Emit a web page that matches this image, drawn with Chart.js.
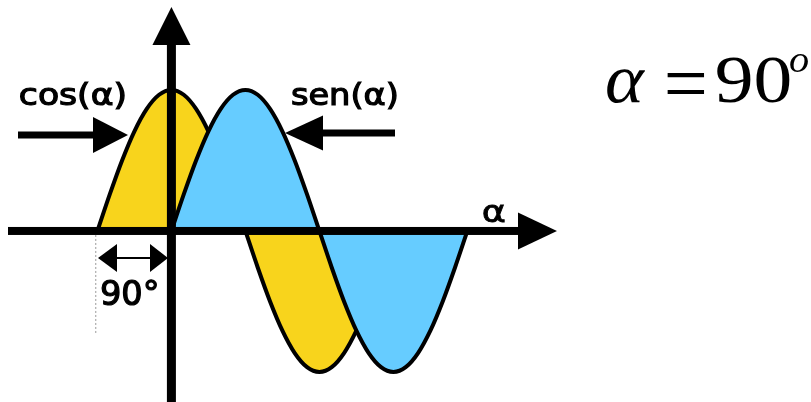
<!DOCTYPE html>
<html><head><meta charset="utf-8">
<script src="https://cdn.jsdelivr.net/npm/chart.js@4/dist/chart.umd.min.js"></script>
<style>html,body{margin:0;padding:0;background:#fff}#wrap{width:811px;height:402px;position:relative}</style>
</head><body><div id="wrap"><canvas id="c" width="811" height="402"></canvas></div>
<script>
// angles in degrees
const cosAngles = [-90,-75,-60,-45,-30,-15,0,15,30,45,60,75,90,105,120,135,150,165,180,195,210,225,240,255,270];
const cosValues = [0,0.259,0.5,0.707,0.866,0.966,1,0.966,0.866,0.707,0.5,0.259,0,-0.259,-0.5,-0.707,-0.866,-0.966,-1,-0.966,-0.866,-0.707,-0.5,-0.259,0];
const senAngles = [0,15,30,45,60,75,90,105,120,135,150,165,180,195,210,225,240,255,270,285,300,315,330,345,360];
const senValues = [0,0.259,0.5,0.707,0.866,0.966,1,0.966,0.866,0.707,0.5,0.259,0,-0.259,-0.5,-0.707,-0.866,-0.966,-1,-0.966,-0.866,-0.707,-0.5,-0.259,0];
const labels = { cos: "cos(α)", sen: "sen(α)", axis: "α", shift: "90°" };

const toPts = (xs, ys) => xs.map((x, i) => ({ x, y: ys[i] }));

function arrowHead(ctx, tx, ty, dir, len, half) {
  ctx.beginPath();
  if (dir === 'right') { ctx.moveTo(tx, ty); ctx.lineTo(tx - len, ty - half); ctx.lineTo(tx - len, ty + half); }
  if (dir === 'left')  { ctx.moveTo(tx, ty); ctx.lineTo(tx + len, ty - half); ctx.lineTo(tx + len, ty + half); }
  if (dir === 'up')    { ctx.moveTo(tx, ty); ctx.lineTo(tx - half, ty + len); ctx.lineTo(tx + half, ty + len); }
  ctx.closePath(); ctx.fill();
}

// draw text stretched horizontally to a given ink width (baseline y)
function fitText(ctx, text, x, y, width, font, stroke) {
  ctx.save();
  ctx.font = font;
  const m = ctx.measureText(text);
  const ink = m.actualBoundingBoxLeft + m.actualBoundingBoxRight;
  const s = width / ink;
  ctx.translate(x, y);
  ctx.scale(s, 1);
  ctx.fillText(text, m.actualBoundingBoxLeft, 0);
  if (stroke) { ctx.lineWidth = stroke; ctx.strokeText(text, m.actualBoundingBoxLeft, 0); }
  ctx.restore();
}
// draw text scaled to fit an ink box
function fitBox(ctx, text, x, top, w, h, font) {
  ctx.save();
  ctx.font = font;
  const m = ctx.measureText(text);
  const iw = m.actualBoundingBoxLeft + m.actualBoundingBoxRight;
  const ih = m.actualBoundingBoxAscent + m.actualBoundingBoxDescent;
  ctx.translate(x, top);
  ctx.scale(w / iw, h / ih);
  ctx.fillText(text, m.actualBoundingBoxLeft, m.actualBoundingBoxAscent);
  ctx.restore();
}

const decor = {
  id: 'decor',
  afterDatasetsDraw(chart) {
    const ctx = chart.ctx, xs = chart.scales.x, ys = chart.scales.y;
    const ox = xs.getPixelForValue(0), oy = ys.getPixelForValue(0);
    const H = chart.height;
    ctx.save();
    ctx.fillStyle = '#000'; ctx.strokeStyle = '#000';
    // horizontal axis
    const xEnd = xs.getPixelForValue(469);
    ctx.fillRect(8, oy - 4, xEnd - 30 - 8, 8);
    arrowHead(ctx, xEnd, oy, 'right', 39, 18.5);
    // vertical axis
    ctx.fillRect(ox - 4.5, 40, 9, H - 40);
    arrowHead(ctx, ox, 7, 'up', 38, 19);
    // cos arrow
    const cy = 135;
    ctx.fillRect(18, cy - 3.5, 80, 7);
    arrowHead(ctx, 128, cy, 'right', 35, 18);
    // sen arrow
    const sy = 133;
    ctx.fillRect(315, sy - 3.5, 80, 7);
    arrowHead(ctx, 285, sy, 'left', 38, 17.5);
    // dotted reference line at -90
    const px = xs.getPixelForValue(-92);
    ctx.save();
    ctx.strokeStyle = '#999'; ctx.lineWidth = 1; ctx.setLineDash([2, 2]);
    ctx.beginPath(); ctx.moveTo(px, oy + 4); ctx.lineTo(px, 333); ctx.stroke();
    ctx.restore();
    // 90 degree double arrow
    const dy = 258;
    ctx.lineWidth = 2;
    ctx.beginPath(); ctx.moveTo(110, dy); ctx.lineTo(158, dy); ctx.stroke();
    arrowHead(ctx, 98, dy, 'left', 19, 14);
    arrowHead(ctx, 168, dy, 'right', 18, 14);
    // texts
    ctx.textBaseline = 'alphabetic'; ctx.textAlign = 'left';
    const lf = '30px "DejaVu Sans"';
    fitText(ctx, labels.cos, 20, 105, 105, lf, 1.2);
    fitText(ctx, labels.sen, 292, 105, 105, lf, 1.2);
    fitText(ctx, labels.axis, 483, 222, 22, '30px "DejaVu Sans"', 0.8);
    fitText(ctx, labels.shift, 102, 305, 55, '33px "DejaVu Sans"', 1.2);
    // formula
    fitText(ctx, 'α', 607, 102, 38, 'italic 70px "Liberation Serif"');
    fitBox(ctx, '=', 667, 72, 38, 21, '70px "Liberation Serif"');
    fitText(ctx, '90', 717, 102, 73, '68px "Liberation Serif"');
    fitText(ctx, 'o', 790, 72, 18, 'italic 38px "Liberation Serif"');
    ctx.restore();
  }
};

new Chart(document.getElementById('c'), {
  type: 'line',
  data: {
    datasets: [
      { label: 'sen', data: toPts(senAngles, senValues), borderColor: '#000', borderWidth: 4,
        backgroundColor: '#66CCFF', fill: 'origin', pointRadius: 0, cubicInterpolationMode: 'monotone' },
      { label: 'cos', data: toPts(cosAngles, cosValues), borderColor: '#000', borderWidth: 4,
        backgroundColor: '#F8D41C', fill: 'origin', pointRadius: 0, cubicInterpolationMode: 'monotone' }
    ]
  },
  options: {
    responsive: false, animation: false,
    layout: { padding: 0 },
    plugins: { legend: { display: false }, tooltip: { enabled: false } },
    scales: {
      x: { type: 'linear', min: -208.5, max: 778, display: false },
      y: { type: 'linear', min: -1.213, max: 1.638, display: false }
    }
  },
  plugins: [decor]
});
</script>
</body></html>
